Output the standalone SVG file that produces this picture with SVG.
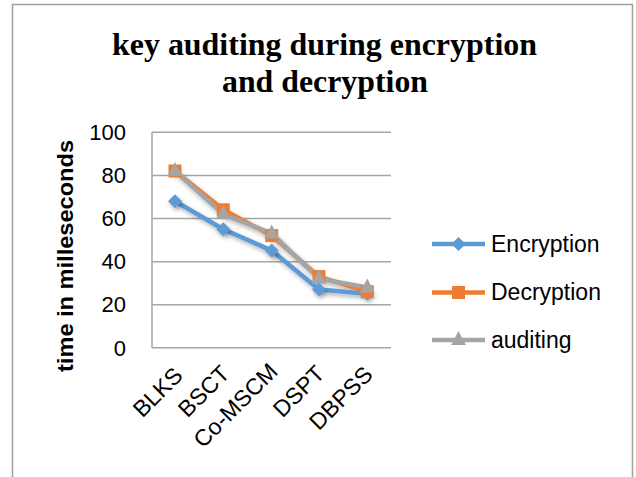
<svg xmlns="http://www.w3.org/2000/svg" width="636" height="477" viewBox="0 0 636 477">
<defs>
<style>
.grid{stroke:#a6a6a6;stroke-width:1.5;fill:none}
.tick{font-family:"Liberation Sans",Arial,sans-serif;font-size:22px;fill:#000}
.cat{font-family:"Liberation Sans",Arial,sans-serif;font-size:23px;fill:#000}
.leg{font-family:"Liberation Sans",Arial,sans-serif;font-size:23px;fill:#000}
.enc{stroke:#5b9bd5;stroke-width:4.5;fill:none;stroke-linejoin:round}
.dec{stroke:#ed7d31;stroke-width:4.5;fill:none;stroke-linejoin:round}
.aud{stroke:#a5a5a5;stroke-width:4.5;fill:none;stroke-linejoin:round}
</style>
<filter id="sh" x="-20%" y="-20%" width="140%" height="140%">
<feDropShadow dx="1.5" dy="2.5" stdDeviation="2" flood-color="#000" flood-opacity="0.3"/>
</filter>
<path id="dia" d="M0,-7 L7,0 L0,7 L-7,0 Z" fill="#5b9bd5"/>
<rect id="sq" x="-6.5" y="-6.5" width="13" height="13" fill="#ed7d31"/>
<path id="tri" d="M0,-8 L7.5,6 L-7.5,6 Z" fill="#a5a5a5"/>
</defs>
<rect x="0" y="0" width="636" height="477" fill="#fff"/>
<rect x="12.5" y="4.5" width="620" height="490" fill="none" stroke="#a0a0a0" stroke-width="1.5"/>
<g id="title" font-family="'Liberation Serif','Times New Roman',serif" font-weight="bold" font-size="31">
<text x="112" y="54.5" textLength="425" lengthAdjust="spacingAndGlyphs">key auditing during encryption</text>
<text x="222" y="91.5" textLength="206" lengthAdjust="spacingAndGlyphs">and decryption</text>
</g>
<g id="axes">
<line class="grid" x1="152" y1="132.3" x2="391" y2="132.3"/>
<line class="grid" x1="152" y1="175.5" x2="391" y2="175.5"/>
<line class="grid" x1="152" y1="218.6" x2="391" y2="218.6"/>
<line class="grid" x1="152" y1="261.7" x2="391" y2="261.7"/>
<line class="grid" x1="152" y1="304.8" x2="391" y2="304.8"/>
<line class="grid" x1="152" y1="347.7" x2="391" y2="347.7"/>
<line class="grid" x1="152" y1="132.3" x2="152" y2="347.7"/>
<g class="tick" text-anchor="end">
<text x="126" y="140">100</text>
<text x="126" y="183">80</text>
<text x="126" y="226">60</text>
<text x="126" y="269">40</text>
<text x="126" y="312">20</text>
<text x="126" y="355.5">0</text>
</g>
<text transform="translate(73,256) rotate(-90)" text-anchor="middle" font-family="'Liberation Sans',Arial,sans-serif" font-weight="bold" font-size="22" textLength="232" lengthAdjust="spacingAndGlyphs">time in milleseconds</text>
<g class="cat" text-anchor="end">
<text transform="translate(184,377) rotate(-45)">BLKS</text>
<text transform="translate(231,375) rotate(-45)">BSCT</text>
<text transform="translate(279,373) rotate(-45)">Co-MSCM</text>
<text transform="translate(326,375) rotate(-45)">DSPT</text>
<text transform="translate(374,376) rotate(-45)">DBPSS</text>
</g>
</g>
<g id="connectors" filter="url(#sh)">
<polyline class="enc" points="175,201.2 223.3,229.2 271.7,250.6 319,289.5 367.3,293.7"/>
<polyline class="dec" points="175,171 223.3,209.8 271.7,235.6 319,276.6 367.3,291.7"/>
<polyline class="aud" points="175,171 223.3,214.1 271.7,233.5 319,278.7 367.3,287.4"/>
</g>
<g id="series-encryption" filter="url(#sh)">
<use href="#dia" x="175" y="201.2"/>
<use href="#dia" x="223.3" y="229.2"/>
<use href="#dia" x="271.7" y="250.6"/>
<use href="#dia" x="319" y="289.5"/>
<use href="#dia" x="367.3" y="293.7"/>
</g>
<g id="series-decryption">
<use href="#sq" x="175" y="171"/>
<use href="#sq" x="223.3" y="209.8"/>
<use href="#sq" x="271.7" y="235.6"/>
<use href="#sq" x="319" y="276.6"/>
<use href="#sq" x="367.3" y="291.7"/>
</g>
<g id="series-auditing">
<use href="#tri" x="175" y="170"/>
<use href="#tri" x="223.3" y="213"/>
<use href="#tri" x="271.7" y="232.5"/>
<use href="#tri" x="319" y="277.7"/>
<use href="#tri" x="367.3" y="286.4"/>
</g>
<g id="legend">
<line class="enc" x1="432" y1="244" x2="485" y2="244"/>
<use href="#dia" x="458.5" y="244"/>
<text class="leg" x="491" y="251.5">Encryption</text>
<line class="dec" x1="432" y1="292.5" x2="485" y2="292.5"/>
<use href="#sq" x="458.5" y="292.5"/>
<text class="leg" x="491" y="300">Decryption</text>
<line class="aud" x1="432" y1="340" x2="485" y2="340"/>
<use href="#tri" x="458.5" y="339"/>
<text class="leg" x="491" y="347.5">auditing</text>
</g>
</svg>
